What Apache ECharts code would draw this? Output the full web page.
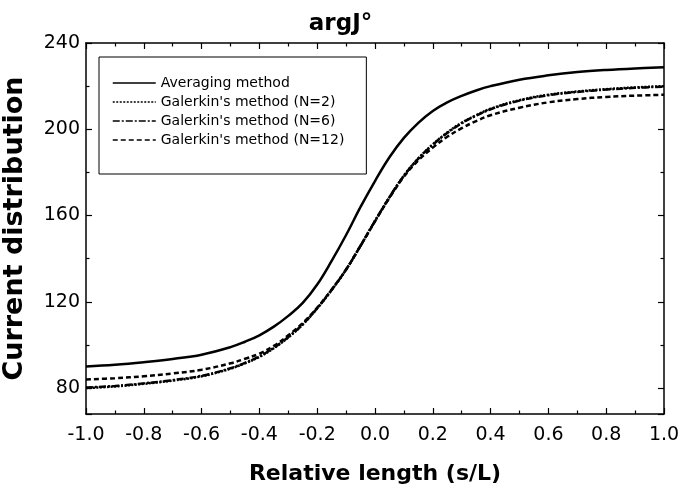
<!DOCTYPE html>
<html>
<head>
<meta charset="utf-8">
<script src="https://cdn.jsdelivr.net/npm/echarts@6/dist/echarts.min.js"></script>
<style>html,body{margin:0;padding:0;background:#fff;}#c{width:681px;height:487px;}</style>
</head>
<body>
<div id="c"></div>
<script>
const xs = [-1.0,-0.9,-0.8,-0.7,-0.6,-0.5,-0.45,-0.4,-0.35,-0.3,-0.25,-0.2,-0.15,-0.1,-0.05,0.0,0.05,0.1,0.15,0.2,0.25,0.3,0.35,0.4,0.5,0.6,0.7,0.8,0.9,1.0];
const avgVals = [90,90.8,92,93.5,95.5,99,101.5,104.5,108.5,113.5,119.5,128,139,151,164,176,187,196,203,208.5,212.5,215.5,218,220,223,225,226.5,227.5,228.2,228.7];
const g2Vals  = [80,80.8,82,83.5,85.5,89,91.5,94.5,98.5,103.5,109.5,117,125.5,135,146,157.5,168.5,178.5,186.5,193,198.5,203,206.5,209.5,213.5,216,217.5,218.6,219.4,220];
const g6Vals  = [80.3,81,82.2,83.7,85.7,89.2,91.7,94.7,98.7,103.7,109.6,117,125.5,135,146,157.5,168.5,178.4,186.4,192.8,198.3,202.8,206.3,209.3,213.3,215.8,217.3,218.4,219.2,219.8];
const g12Vals = [84,84.6,85.5,86.8,88.5,91.5,93.6,96,99.6,104.5,110.2,117.3,125.7,135,146,157.3,168.2,178,185.6,191.5,196.5,200.5,203.8,206.5,210,212.5,214,215,215.6,216];
const seriesNames = ['Averaging method',"Galerkin's method (N=2)","Galerkin's method (N=6)","Galerkin's method (N=12)"];
const yTicks = [80,120,160,200,240];

const pair = v => xs.map((x,i)=>[x,v[i]]);
const FONT = 'DejaVu Sans';
const chart = echarts.init(document.getElementById('c'), null, {renderer:'canvas'});
const dashes = ['solid',[2,1.5],[7,2,2,2],[5,3]];
const vals = [avgVals,g2Vals,g6Vals,g12Vals];

const axisCommon = {
  axisLine:{show:true,onZero:false,lineStyle:{color:'#000',width:1.5}},
  axisTick:{show:true,inside:true,length:6,lineStyle:{color:'#000',width:1.2}},
  minorTick:{show:true,splitNumber:2,length:3.5,lineStyle:{color:'#000',width:1.2}},
  splitLine:{show:false},
  minorSplitLine:{show:false}
};

chart.setOption({
  backgroundColor:'#fff',
  animation:false,
  title:{
    text:'argJ°', left:'center', top:8,
    textStyle:{fontFamily:FONT,fontWeight:'bold',fontSize:23,color:'#000'}
  },
  grid:{left:86,right:17,top:43,bottom:73,containLabel:false,outerBoundsMode:'none'},
  legend:{
    show:true, orient:'vertical', left:99, top:57,
    padding:[19,22,27,13], itemGap:5, itemWidth:43, itemHeight:14,
    backgroundColor:'#fff', borderColor:'#000', borderWidth:1,
    textStyle:{fontFamily:FONT,fontSize:14,color:'#000'},
    data:seriesNames.map((n,i)=>({name:n,
      itemStyle:{color:'rgba(0,0,0,0)',borderWidth:0,opacity:0},
      lineStyle:{width:1.5,color:'#000',type:dashes[i],opacity:1}}))
  },
  xAxis:[
    Object.assign({}, axisCommon, {
      type:'value', min:-1, max:1, interval:0.2, position:'bottom',
      name:'Relative length (s/L)', nameLocation:'middle', nameGap:49,
      nameTextStyle:{fontFamily:FONT,fontWeight:'bold',fontSize:22,color:'#000'},
      axisLabel:{margin:12,fontFamily:FONT,fontSize:19,color:'#000',formatter:v=>v.toFixed(1)}
    }),
    Object.assign({}, axisCommon, {
      type:'value', min:-1, max:1, interval:0.2, position:'top',
      axisLabel:{show:false}
    })
  ],
  yAxis:[
    Object.assign({}, axisCommon, {
      type:'value', min:68, max:240, minInterval:40, maxInterval:40, position:'left',
      name:'Current distribution', nameLocation:'middle', nameGap:58, nameRotate:90,
      nameTextStyle:{fontFamily:FONT,fontWeight:'bold',fontSize:27,color:'#000'},
      axisLabel:{margin:6,fontFamily:FONT,fontSize:19,color:'#000',showMinLabel:false,
        formatter:v=>(yTicks.indexOf(v)>=0?String(v):'')}
    }),
    Object.assign({}, axisCommon, {
      type:'value', min:68, max:240, minInterval:40, maxInterval:40, position:'right',
      axisLabel:{show:false}
    })
  ],
  series: seriesNames.map((n,i)=>({
    name:n, type:'line', smooth:0.4, symbol:'none', showSymbol:false,
    xAxisIndex:0, yAxisIndex:0,
    lineStyle:{color:'#000',width:2.5,type:dashes[i]},
    itemStyle:{color:'#000'},
    data:pair(vals[i])
  }))
});
</script>
</body>
</html>
